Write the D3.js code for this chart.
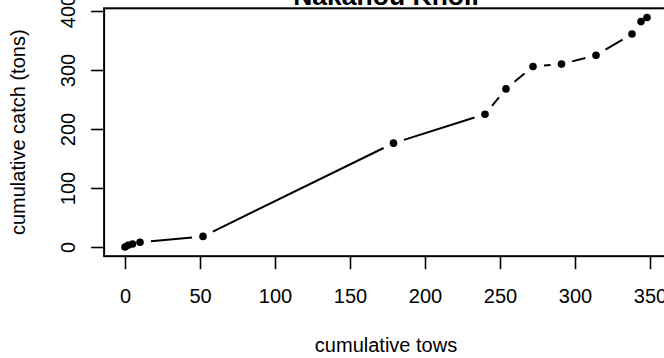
<!DOCTYPE html>
<html>
<head>
<meta charset="utf-8">
<script src="https://cdn.jsdelivr.net/npm/d3@7"></script>
<style>
  html, body { margin: 0; padding: 0; background: #fff; }
  svg { display: block; }
  text { font-family: "Liberation Sans", Arial, Helvetica, sans-serif; fill: #000; }
</style>
</head>
<body>
<svg id="chart" width="664" height="358"></svg>
<script>
// ---- data ----
const tows  = [0, 2, 5, 10, 52, 179, 240, 254, 272, 291, 314, 338, 344, 348];
const catchTons = [0, 3, 5, 8, 18, 176, 225, 268, 306, 310, 325, 361, 382, 389];
const xTicks = [0, 50, 100, 150, 200, 250, 300, 350];
const yTicks = [0, 100, 200, 300, 400];
const title = "Nakanou Knoll";
const xLabel = "cumulative tows";
const yLabel = "cumulative catch (tons)";

const svg = d3.select("#chart");
const x = d3.scaleLinear().domain([0, 350]).range([125, 650]);
const y = d3.scaleLinear().domain([0, 400]).range([247, 11]);

// R-style 4% extended plot region
const xr = d3.extent(tows), yr = d3.extent(catchTons);
const xlo = xr[0] - 0.04 * (xr[1] - xr[0]), xhi = xr[1] + 0.04 * (xr[1] - xr[0]);
const ylo = yr[0] - 0.04 * (yr[1] - yr[0]), yhi = yr[1] + 0.04 * (yr[1] - yr[0]);

svg.append("rect")
  .attr("x", x(xlo)).attr("y", y(yhi))
  .attr("width", x(xhi) - x(xlo)).attr("height", y(ylo) - y(yhi))
  .attr("fill", "none").attr("stroke", "#000").attr("stroke-width", 2);

// axes
const xAxis = d3.axisBottom(x).tickValues(xTicks).tickSize(13).tickPadding(0).tickFormat(d3.format("d"));
const gx = svg.append("g").attr("transform", `translate(0,${y(ylo)})`).call(xAxis);
gx.select(".domain").remove();
gx.selectAll("line").attr("stroke", "#000").attr("stroke-width", 1.6);
gx.selectAll("text")
  .attr("font-size", 20).attr("font-family", "Liberation Sans, Arial, sans-serif")
  .attr("dy", null).attr("y", 303 - y(ylo));

const yAxis = d3.axisLeft(y).tickValues(yTicks).tickSize(13).tickFormat(d3.format("d"));
const gy = svg.append("g").attr("transform", `translate(${x(xlo)},0)`).call(yAxis);
gy.select(".domain").remove();
gy.selectAll("line").attr("stroke", "#000").attr("stroke-width", 1.6);
gy.selectAll("text")
  .attr("font-size", 20).attr("font-family", "Liberation Sans, Arial, sans-serif")
  .attr("x", null).attr("dy", null).attr("y", 0)
  .attr("text-anchor", "middle")
  .attr("transform", `translate(${75 - x(xlo)},0) rotate(-90)`);

// type="b" lines with gaps
const gap = 11;
const pts = tows.map((t, i) => [x(t), y(catchTons[i])]);
const segs = [];
for (let i = 0; i < pts.length - 1; i++) {
  const [x1, y1] = pts[i], [x2, y2] = pts[i + 1];
  const L = Math.hypot(x2 - x1, y2 - y1);
  if (L > 2 * gap) {
    const ux = (x2 - x1) / L, uy = (y2 - y1) / L;
    segs.push([x1 + ux * gap, y1 + uy * gap, x2 - ux * gap, y2 - uy * gap]);
  }
}
svg.append("g").selectAll("line").data(segs).join("line")
  .attr("x1", d => d[0]).attr("y1", d => d[1])
  .attr("x2", d => d[2]).attr("y2", d => d[3])
  .attr("stroke", "#000").attr("stroke-width", 2);

svg.append("g").selectAll("circle").data(tows).join("circle")
  .attr("cx", (d) => x(d)).attr("cy", (d, i) => y(catchTons[i]))
  .attr("r", 3.8).attr("fill", "#000");

// labels
svg.append("text").attr("x", (x(xlo) + x(xhi)) / 2).attr("y", 5)
  .attr("text-anchor", "middle").attr("font-size", 26.5).attr("font-weight", "bold")
  .text(title);
svg.append("text").attr("x", (x(xlo) + x(xhi)) / 2).attr("y", 352)
  .attr("text-anchor", "middle").attr("font-size", 20).text(xLabel);
svg.append("text")
  .attr("transform", `translate(25,${(y(ylo) + y(yhi)) / 2}) rotate(-90)`)
  .attr("text-anchor", "middle").attr("font-size", 20).text(yLabel);
</script>
</body>
</html>
